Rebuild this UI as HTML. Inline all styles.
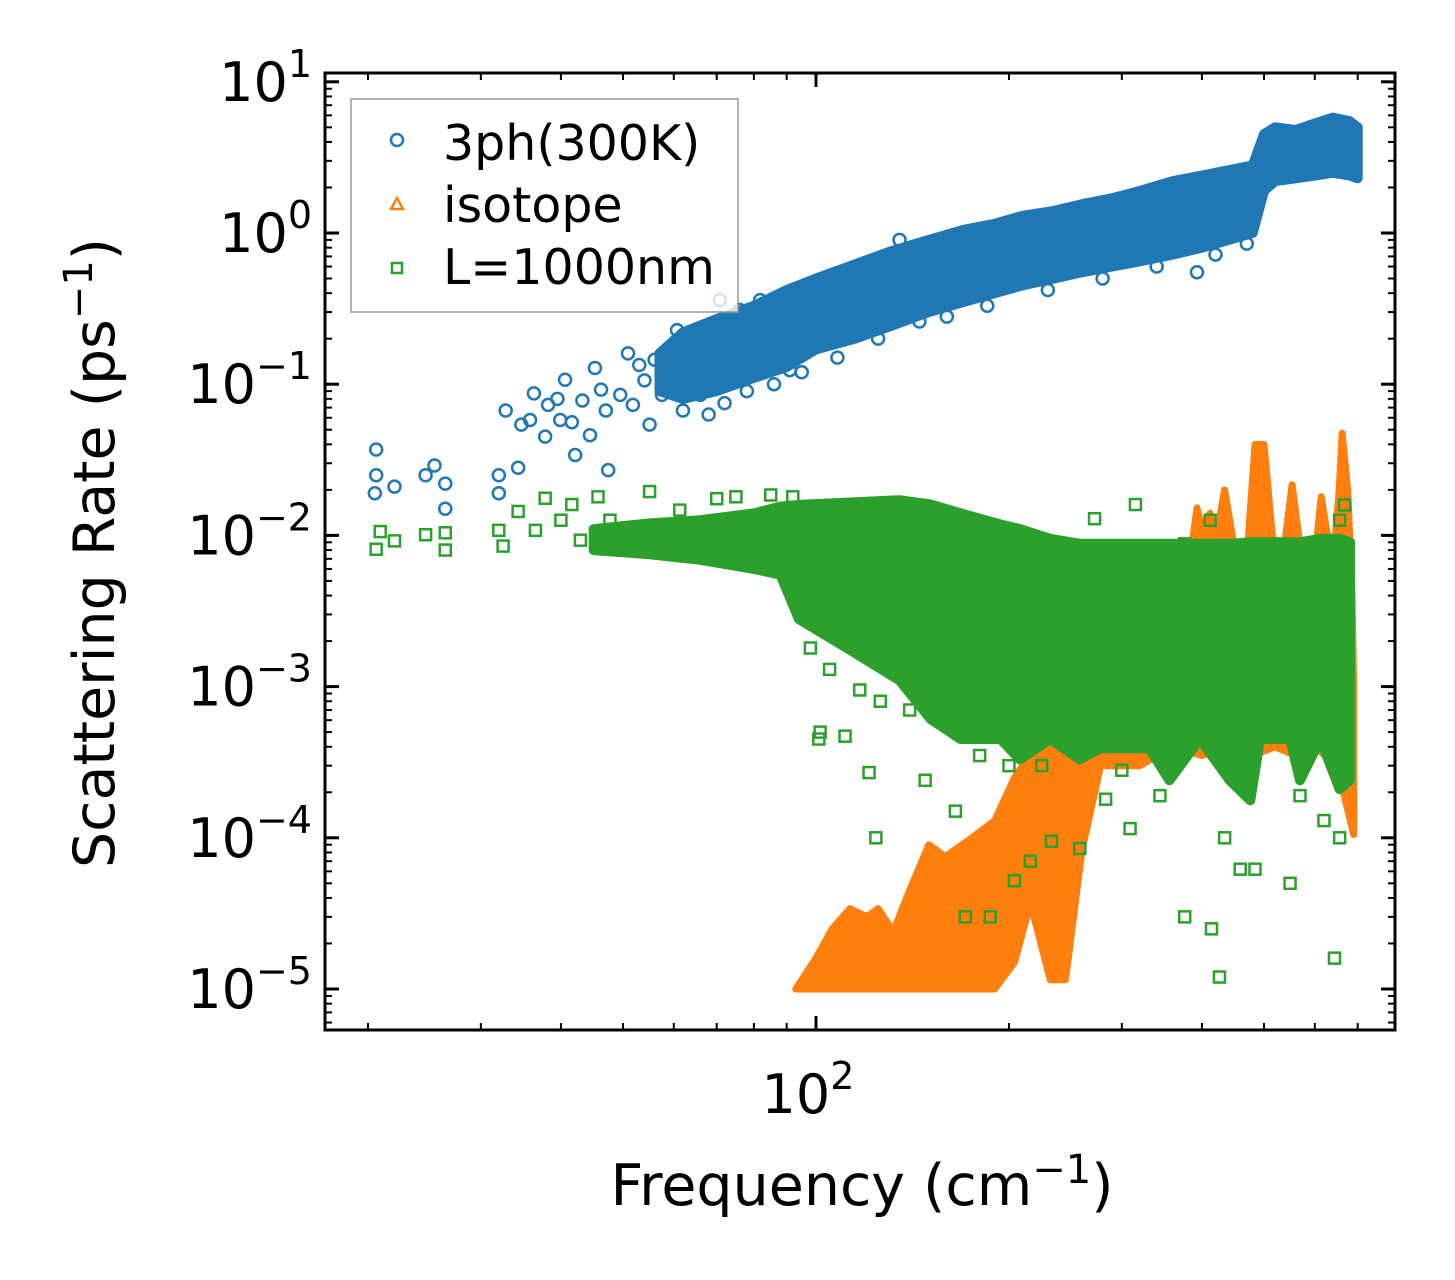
<!DOCTYPE html>
<html><head><meta charset="utf-8"><style>
html,body{margin:0;padding:0;background:#fff;}
svg{display:block;font-family:"DejaVu Sans","Liberation Sans",sans-serif;}
</style></head><body>
<svg id="chart" width="1455" height="1280" viewBox="0 0 1455 1280" xmlns="http://www.w3.org/2000/svg">
<rect x="0" y="0" width="1455" height="1280" fill="#fff"/>
<g id="marks"></g>
<g id="axes"></g>
<g>
<rect x="351" y="99" width="387" height="213" fill="#fff" fill-opacity="0.8" stroke="#999" stroke-width="1.5"/>
<circle cx="397" cy="140" r="6" fill="none" stroke="#1f77b4" stroke-width="2.5"/>
<text x="443" y="160" font-size="49">3ph(300K)</text>
<path d="M397,198 L403,209 L391,209 Z" fill="none" stroke="#ff7f0e" stroke-width="2.5"/>
<text x="443" y="222" font-size="49">isotope</text>
<rect x="392" y="263" width="10" height="10" fill="none" stroke="#2ca02c" stroke-width="2.5"/>
<text x="443" y="284" font-size="49">L=1000nm</text>
</g>
<text x="862" y="1205" font-size="57" text-anchor="middle">Frequency (cm<tspan font-size="40" dy="-22">−1</tspan><tspan dy="22">)</tspan></text>
<text transform="translate(114,553) rotate(-90)" font-size="57" text-anchor="middle">Scattering Rate (ps<tspan font-size="40" dy="-22">−1</tspan><tspan dy="22">)</tspan></text>
</svg>
<script>
// ---- data ----
const blueBandF  = [57,62,70,80,90,100,115,130,150,170,190,210,235,260,290,320,360,400,440,480,500,520,560,600,640,680,700];
const blueBandHi = [0.16,0.22,0.27,0.33,0.42,0.5,0.62,0.75,0.9,1.05,1.15,1.3,1.4,1.55,1.7,1.9,2.2,2.4,2.6,2.8,4.5,5,4.8,5.3,5.8,5.5,5];
const blueBandLo = [0.09,0.08,0.09,0.11,0.13,0.17,0.2,0.24,0.3,0.35,0.4,0.45,0.5,0.55,0.6,0.65,0.72,0.8,0.9,1.0,1.9,2.2,2.3,2.4,2.5,2.4,2.3];
const blueF = [20.6,20.6,20.5,22,24.6,25.4,26.4,26.4,32,32,32.8,34.3,34.7,35.8,36.3,37.8,38.2,39.5,39.9,40.6,41.6,42.1,43.2,44.4,45.2,46.2,47,47.4,49.5,50.9,51.8,53,54,55,56,57.5,59,60,60.7,62,63.5,66,67.3,68,70.8,76,81.8,91,101,117,135,393,72,78,86,95,108,125,145,160,185,230,280,340,420,470];
const blueR = [0.037,0.025,0.019,0.021,0.025,0.029,0.022,0.015,0.025,0.019,0.067,0.028,0.054,0.058,0.087,0.045,0.073,0.08,0.058,0.107,0.056,0.034,0.078,0.046,0.128,0.092,0.067,0.027,0.085,0.16,0.073,0.134,0.106,0.054,0.145,0.085,0.1,0.168,0.228,0.067,0.134,0.085,0.196,0.063,0.36,0.31,0.36,0.124,0.45,0.61,0.9,0.55,0.075,0.09,0.1,0.12,0.15,0.2,0.26,0.28,0.33,0.42,0.5,0.6,0.72,0.85];

const isoLowF  = [93,100,106,113,120,125,132,140,150,159,175,190,204,220,242,260,276,283,278,260,245,232,216,204,190,93];
const isoLowR  = [1e-5,1.6e-5,2.5e-5,3.4e-5,3.0e-5,3.4e-5,2.4e-5,4.5e-5,9e-5,7.5e-5,1.0e-4,1.3e-4,2.5e-4,4e-4,6.3e-4,8e-4,1.1e-3,1.4e-3,3e-4,8.3e-5,1.15e-5,1.15e-5,3.7e-5,1.5e-5,1e-5,1e-5];
const isoHighF = [283,330,370,385,393,400,412,420,434,450,470,484,500,515,535,553,570,600,614,640,655,662,675,685,690,690,650,600,560,520,480,440,400,360,320,283];
const isoHighR = [1.4e-3,3e-3,0.006,0.008,0.0152,0.011,0.014,0.009,0.02,0.008,0.007,0.04,0.04,0.01,0.007,0.0216,0.008,0.007,0.018,0.006,0.02,0.0475,0.02,0.005,0.001,1.05e-4,3e-4,4e-4,3.5e-4,4e-4,3.5e-4,4e-4,3.5e-4,4e-4,3e-4,3e-4];

const greenBandF  = [45,55,66,80,88,94,113,135,151,168,194,208,232,258,277,331,356,397,442,476,493,549,569,612,656,681];
const greenBandHi = [0.011,0.012,0.0126,0.014,0.0155,0.0159,0.0165,0.0171,0.016,0.014,0.0118,0.011,0.0095,0.0088,0.0088,0.0088,0.0088,0.0088,0.0088,0.009,0.009,0.009,0.009,0.0095,0.0095,0.009];
const greenBandLo = [0.008,0.0075,0.0069,0.006,0.0055,0.0028,0.00175,0.0011,0.00061,0.00045,0.00045,0.00033,0.00045,0.00033,0.00039,0.00039,0.00024,0.00045,0.00024,0.000177,0.00045,0.00045,0.00024,0.00045,0.00021,0.00024];
const greenF = [20.6,20.9,22,24.6,26.4,26.4,32,32.5,34.3,36.5,37.8,40,41.6,42.9,45.7,47.7,55,61.3,101,101.5,111,121,124,117,126,148,165,171,187,204,216,233,258,283,309,344,376,414,426,434,459,484,549,569,620,644,656,272,315,376,412,668,656,70,75,85,92,105,98,140,180,200,225,300,650];
const greenR = [0.0081,0.0106,0.0092,0.0101,0.0104,0.008,0.0108,0.0085,0.0144,0.0108,0.0176,0.0126,0.016,0.0093,0.018,0.0126,0.0195,0.0147,4.5e-4,5e-4,4.7e-4,2.7e-4,1.0e-4,9.5e-4,8e-4,2.4e-4,1.5e-4,3e-5,3e-5,5.2e-5,7e-5,9.5e-5,8.5e-5,1.8e-4,1.15e-4,1.9e-4,3e-5,2.5e-5,1.2e-5,1e-4,6.2e-5,6.2e-5,5e-5,1.9e-4,1.3e-4,1.6e-5,1e-4,0.0129,0.016,0.0088,0.0126,0.0159,0.0126,0.0175,0.018,0.0185,0.018,0.0013,0.0018,0.0007,0.00035,0.0003,0.0003,0.00028,0.0003];

const yTickExp = [1,0,-1,-2,-3,-4,-5];
const xTickExp = [2];

// ---- axes functions ----
const X0=325, X1=1395, Y0=73, Y1=1030;
function sx(f){ return 816 + 641*Math.log10(f/100); }
function sy(r){ return 233 - 151.2*Math.log10(r); }
const NS="http://www.w3.org/2000/svg";
const marks=document.getElementById('marks');
const axes=document.getElementById('axes');
function mk(tag, attrs, parent){ const e=document.createElementNS(NS,tag); for(const k in attrs) e.setAttribute(k,attrs[k]); parent.appendChild(e); return e; }

const defs=mk('defs',{},marks);
const cp=mk('clipPath',{id:'clip'},defs);
mk('rect',{x:X0,y:Y0,width:X1-X0,height:Y1-Y0},cp);
const plot=mk('g',{'clip-path':'url(#clip)'},marks);

function band(F,Hi,Lo,color,name){
  let d='';
  for(let i=0;i<F.length;i++) d+=(i?'L':'M')+sx(F[i]).toFixed(1)+','+sy(Hi[i]).toFixed(1);
  for(let i=F.length-1;i>=0;i--) d+='L'+sx(F[i]).toFixed(1)+','+sy(Lo[i]).toFixed(1);
  const p=mk('path',{d:d+'Z',fill:color,stroke:color,'stroke-width':10,'stroke-linejoin':'round'},plot);
  
  
}
function poly(F,R,color,name){
  let d='';
  for(let i=0;i<F.length;i++) d+=(i?'L':'M')+sx(F[i]).toFixed(1)+','+sy(R[i]).toFixed(1);
  const p=mk('path',{d:d+'Z',fill:color,stroke:color,'stroke-width':7,'stroke-linejoin':'round'},plot);
  
  
}

band(blueBandF,blueBandHi,blueBandLo,'#1f77b4','band-3ph');
for(let i=0;i<blueF.length;i++){
  const c=mk('circle',{cx:sx(blueF[i]),cy:sy(blueR[i]),r:6,fill:'none',stroke:'#1f77b4','stroke-width':2.5},plot);
  
  
}
poly(isoLowF,isoLowR,'#ff7f0e','band-isotope-low');
poly(isoHighF,isoHighR,'#ff7f0e','band-isotope-high');
band(greenBandF,greenBandHi,greenBandLo,'#2ca02c','band-boundary');
for(let i=0;i<greenF.length;i++){
  const x=sx(greenF[i]), y=sy(greenR[i]);
  const s=mk('rect',{x:x-5.5,y:y-5.5,width:11,height:11,fill:'none',stroke:'#2ca02c','stroke-width':2.5},plot);
  
  
}

mk('rect',{x:X0,y:Y0,width:X1-X0,height:Y1-Y0,fill:'none',stroke:'#000','stroke-width':3},axes);
for(let e=-6;e<=1;e++){
  for(let m=1;m<=9;m++){
    const y=sy(m*Math.pow(10,e));
    if(y<Y0+1||y>Y1-1) continue;
    const L=(m===1)?14:7, w=(m===1)?3:2;
    mk('line',{x1:X0,x2:X0+L,y1:y,y2:y,stroke:'#000','stroke-width':w},axes);
    mk('line',{x1:X1,x2:X1-L,y1:y,y2:y,stroke:'#000','stroke-width':w},axes);
  }
}
yTickExp.forEach(e=>{
  const t=mk('text',{x:312,y:sy(Math.pow(10,e))+19,'font-size':54,'text-anchor':'end'},axes);
  
  
  t.appendChild(document.createTextNode('10'));
  const s=mk('tspan',{'font-size':38,dy:-24},t);
  s.textContent=(e<0?'−':'')+Math.abs(e);
});
for(let e=1;e<=2;e++){
  for(let m=1;m<=9;m++){
    const x=sx(m*Math.pow(10,e));
    if(x<X0+1||x>X1-1) continue;
    const L=(m===1)?14:7, w=(m===1)?3:2;
    mk('line',{x1:x,x2:x,y1:Y1,y2:Y1-L,stroke:'#000','stroke-width':w},axes);
    mk('line',{x1:x,x2:x,y1:Y0,y2:Y0+L,stroke:'#000','stroke-width':w},axes);
  }
}
xTickExp.forEach(e=>{
  const t=mk('text',{x:sx(Math.pow(10,e))-8,y:1113,'font-size':54,'text-anchor':'middle'},axes);
  
  
  t.appendChild(document.createTextNode('10'));
  const s=mk('tspan',{'font-size':38,dy:-24},t);
  s.textContent=String(e);
});
</script>
</body></html>
